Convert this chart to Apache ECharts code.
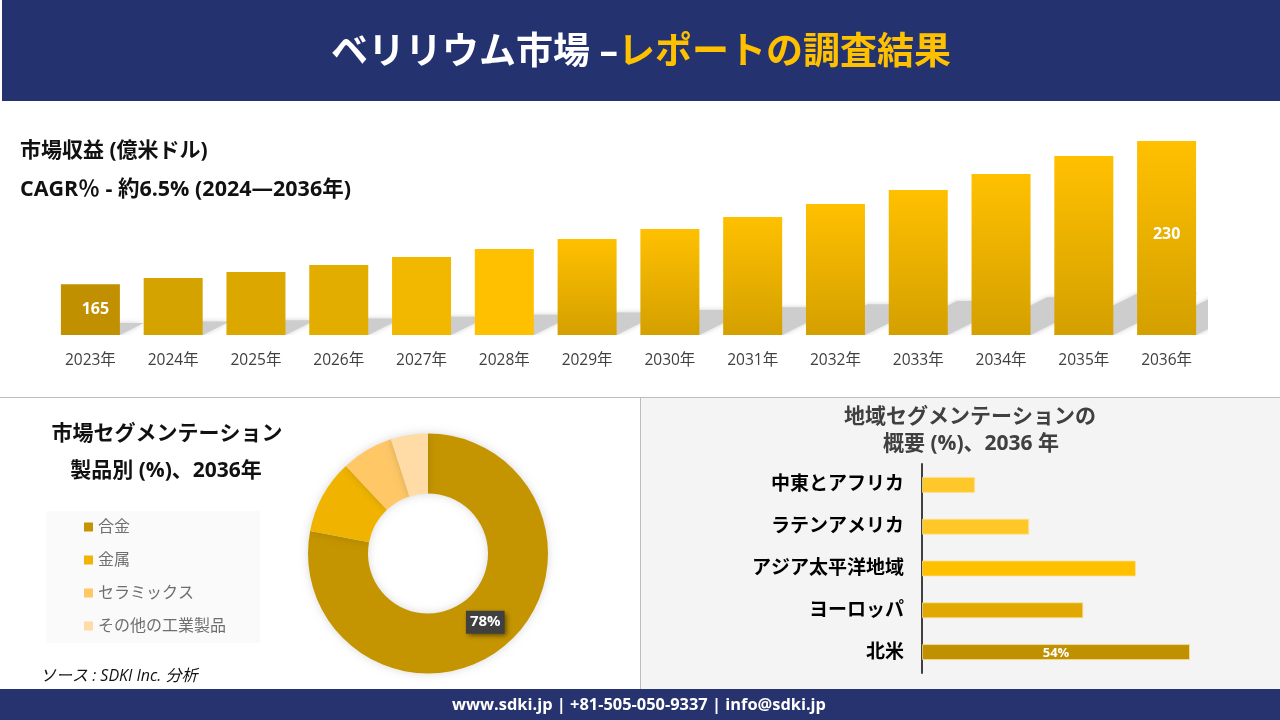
<!DOCTYPE html>
<html><head><meta charset="utf-8">
<style>html,body{margin:0;padding:0;background:#fff}#c{width:1280px;height:720px}</style>
<script src="https://cdn.jsdelivr.net/npm/echarts@6/dist/echarts.min.js"></script>
</head><body><div id="c"></div>
<script>
const FONT = '"Open Sans","Noto Sans CJK JP",sans-serif';
const years = ['2023年','2024年','2025年','2026年','2027年','2028年','2029年','2030年','2031年','2032年','2033年','2034年','2035年','2036年'];
const revenue = [165,167.9,170.6,173.8,177.4,181,185.5,190.1,195.5,201.4,207.8,215,223.2,230];
const barTop = ['#C09000','#D4A300','#DCA800','#E3AD00','#F2B800','#FFC000','#FFC000','#FFC000','#FFC000','#FFC000','#FFC000','#FFC000','#FFC000','#FFC000'];
const barBottom = ['#C09000','#D4A300','#DCA800','#E3AD00','#F2B800','#FFC000','#D4A000','#D4A000','#D4A000','#D4A000','#D4A000','#D4A000','#D4A000','#D4A000'];
const products = ['合金','金属','セラミックス','その他の工業製品'];
const productShare = [78,10,7,5];
const productColors = ['#C49500','#F0B400','#FFC766','#FFDBA6'];
const regions = ['中東とアフリカ','ラテンアメリカ','アジア太平洋地域','ヨーロッパ','北米'];
const regionShare = [10.7,21.6,43.1,32.5,54];
const regionColors = ['#FFC82A','#FFC828','#FFC000','#E0A800','#BF9000'];

const chart = echarts.init(document.getElementById('c'), null, {renderer:'canvas'});
const axisMin = 142;

function rect(x,y,w,h,fill,z){return {type:'rect',silent:true,z:z||0,shape:{x,y,width:w,height:h},style:{fill}};}

chart.setOption({
  animation:false,
  textStyle:{fontFamily:FONT},
  graphic:[
    rect(2,0,1278,101,'#24336F'),
    rect(641,398,639,291,'#F4F4F4'),
    rect(0,397,1280,1,'#BDBDBD'),
    rect(640,397,1,292,'#BDBDBD'),
    rect(0,689,1280,31,'#27336F'),
    rect(46,511,214,132,'#FAFAFA')
  ],
  title:[
    {text:'{w|ベリリウム市場 –}{y|レポートの調査結果}',left:636,top:30,textAlign:'center',
     textStyle:{rich:{w:{color:'#fff',fontSize:37,fontWeight:'bold',fontFamily:FONT},y:{color:'#FFC000',fontSize:37,fontWeight:'bold',fontFamily:FONT}}}},
    {text:'市場収益 (億米ドル)',left:20,top:141,padding:0,textStyle:{color:'#111',fontSize:21,fontWeight:'bold',fontFamily:FONT}},
    {text:'CAGR％ - 約6.5% (2024—2036年)',left:20,top:179,padding:0,textStyle:{color:'#111',fontSize:21.5,fontWeight:'bold',fontFamily:FONT}},
    {text:'市場セグメンテーション',left:167,top:424,padding:0,textAlign:'center',textStyle:{color:'#111',fontSize:21,fontWeight:'bold',fontFamily:FONT}},
    {text:'製品別 (%)、2036年',left:166,top:461,padding:0,textAlign:'center',textStyle:{color:'#111',fontSize:21,fontWeight:'bold',fontFamily:FONT}},
    {text:'地域セグメンテーションの',left:970,top:407,padding:0,textAlign:'center',textStyle:{color:'#404040',fontSize:21,fontWeight:'bold',fontFamily:FONT}},
    {text:'概要 (%)、2036 年',left:971,top:434,padding:0,textAlign:'center',textStyle:{color:'#404040',fontSize:21,fontWeight:'bold',fontFamily:FONT}},
    {text:'ソース : SDKI Inc. 分析',left:40,top:668,padding:0,textStyle:{color:'#111',fontSize:16,fontWeight:'normal',fontStyle:'italic',fontFamily:FONT}},
    {text:'www.sdki.jp | +81-505-050-9337 | info@sdki.jp',left:639,top:697,padding:0,textAlign:'center',textStyle:{color:'#fff',fontSize:16.4,fontWeight:'bold',fontFamily:FONT}}
  ],
  legend:{data:products,orient:'vertical',left:84,top:519,itemWidth:9,itemHeight:9,itemGap:17,padding:0,icon:'rect',
    textStyle:{color:'#6E6E6E',fontSize:16,fontFamily:FONT,padding:[0,0,0,0]}},
  grid:[
    {left:49,top:141,width:1159,height:194},
    {left:922,top:464,width:268,height:209}
  ],
  xAxis:[
    {gridIndex:0,type:'category',data:years,axisLine:{show:false},axisTick:{show:false},
     axisLabel:{color:'#404040',fontSize:15.5,margin:18,fontFamily:FONT}},
    {gridIndex:1,type:'value',min:0,max:54,show:false}
  ],
  yAxis:[
    {gridIndex:0,type:'value',min:axisMin,max:230,show:false},
    {gridIndex:1,type:'category',inverse:true,data:regions,
     axisLine:{show:true,lineStyle:{color:'#404040',width:2}},axisTick:{show:false},
     axisLabel:{color:'#000',fontSize:19,fontWeight:'bold',margin:18,fontFamily:FONT}}
  ],
  series:[
    {type:'custom',xAxisIndex:0,yAxisIndex:0,z:1,clip:true,silent:true,
     data:revenue.map((v,i)=>[i,v]),
     renderItem(params,api){
       const i=api.value(0), top=api.coord([i,api.value(1)]), base=api.coord([i,axisMin]);
       const half=29.5, h=(base[1]-top[1])*0.235, dx=h*2;
       return {type:'polygon',shape:{points:[[base[0]-half,base[1]],[base[0]+half,base[1]],[base[0]+half+dx,base[1]-h],[base[0]-half+dx,base[1]-h]]},
         style:{fill:'#CDCDCD',shadowBlur:5,shadowColor:'rgba(190,190,190,0.7)'}};
     }},
    {type:'bar',xAxisIndex:0,yAxisIndex:0,z:2,barWidth:59,
     data:revenue.map((v,i)=>({value:v,itemStyle:{color:new echarts.graphic.LinearGradient(0,0,0,1,[{offset:0,color:barTop[i]},{offset:1,color:barBottom[i]}])},
       label: i===0?{show:true,position:'inside',offset:[5,0]}:(i===13?{show:true,position:'inside',offset:[0,-4]}:{show:false})})),
     label:{color:'#fff',fontWeight:'bold',fontSize:16,fontFamily:FONT,formatter:p=>String(p.value)}},
    {type:'pie',center:[428,553.5],radius:[60,120],startAngle:90,z:2,
     data:products.map((n,i)=>({name:n,value:productShare[i],itemStyle:{color:productColors[i]},
       label:i===0?{show:true,position:'inside',offset:[-2,-3],formatter:productShare[0]+'%',backgroundColor:'#404040',color:'#fff',fontSize:15,fontWeight:'bold',fontFamily:FONT,padding:[4,4,4,4],shadowBlur:5,shadowColor:'rgba(0,0,0,0.5)',shadowOffsetX:2,shadowOffsetY:2}:{show:false},
       labelLine:{show:false}})),
     itemStyle:{shadowBlur:9,shadowColor:'rgba(0,0,0,0.15)'},emphasis:{disabled:true}},
    {type:'bar',xAxisIndex:1,yAxisIndex:1,z:2,barWidth:16,
     data:regionShare.map((v,i)=>({value:v,itemStyle:{color:regionColors[i],borderColor:'rgba(255,225,150,0.7)',borderWidth:1},
       label:i===4?{show:true,position:'inside',offset:[0,1],color:'#fff',fontSize:13,fontWeight:'bold',fontFamily:FONT,formatter:v+'%'}:{show:false}}))}
  ]
});
</script></body></html>
